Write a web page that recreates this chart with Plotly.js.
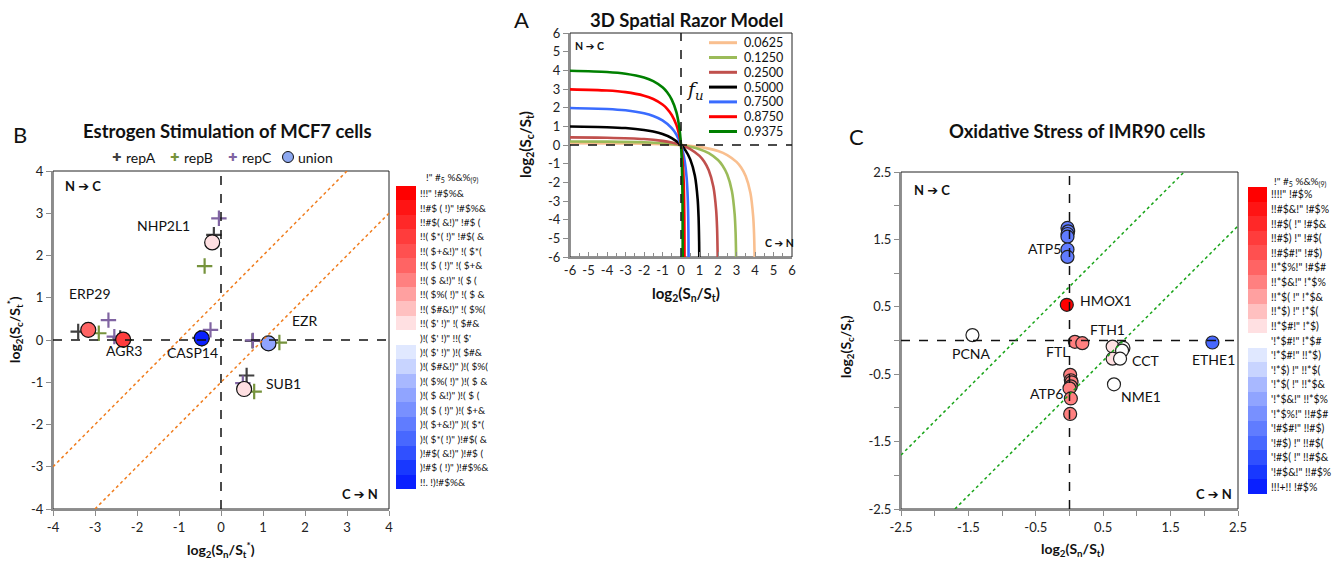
<!DOCTYPE html>
<html><head><meta charset="utf-8">
<script src="https://cdn.plot.ly/plotly-3.0.1.min.js"></script>
<style>html,body{margin:0;padding:0;background:#fff}#chart{width:1338px;height:562px}</style>
</head><body><div id="chart"></div><script>
// ================= DATA =================
// Panel A: 3D Spatial Razor Model curves
const fuLabels = ['0.0625','0.1250','0.2500','0.5000','0.7500','0.8750','0.9375'];
const razorX_0625 = [-6,-4,-2,-1,0,1,2,2.5,3,3.25,3.5,3.75,3.9,3.95,3.979];
const razorY_0625 = [0.092,0.087,0.070,0.047,0,-0.100,-0.322,-0.536,-0.907,-1.209,-1.678,-2.559,-3.806,-4.781,-6];
const razorX_1250 = [-6,-4,-2,-1,0,1,1.5,2,2.25,2.5,2.75,2.9,2.95,2.98];
const razorY_1250 = [0.190,0.181,0.147,0.100,0,-0.222,-0.437,-0.807,-1.109,-1.578,-2.459,-3.706,-4.681,-6];
const razorX_2500 = [-6,-4,-2,-1,-0.5,0,0.5,1,1.25,1.5,1.75,1.9,1.95,1.983];
const razorY_2500 = [0.409,0.392,0.322,0.222,0.134,0,-0.215,-0.585,-0.887,-1.356,-2.237,-3.484,-4.459,-6];
const razorX_5000 = [-6,-4,-3,-2,-1.5,-1,-0.5,0,0.25,0.5,0.75,0.9,0.95,0.98,0.989];
const razorY_5000 = [0.989,0.954,0.907,0.807,0.719,0.585,0.371,0,-0.302,-0.771,-1.652,-2.899,-3.874,-5.182,-6];
const razorX_7500 = [-6,-4,-3,-2,-1.5,-1,-0.5,-0.25,0,0.1,0.2,0.3,0.35,0.39,0.405,0.409];
const razorY_7500 = [1.983,1.931,1.858,1.700,1.556,1.322,0.910,0.563,0,-0.350,-0.852,-1.705,-2.504,-3.863,-5.177,-6];
const razorX_8750 = [-6,-4,-3,-2,-1.5,-1,-0.75,-0.5,-0.25,-0.1,0,0.05,0.1,0.15,0.18,0.187,0.1898];
const razorY_8750 = [2.980,2.919,2.833,2.644,2.466,2.170,1.940,1.609,1.080,0.555,0,-0.409,-1.007,-2.101,-3.848,-5.017,-6];
const razorX_9375 = [-6,-4,-3,-2,-1.5,-1,-0.75,-0.5,-0.25,-0.1,-0.05,0,0.02,0.05,0.08,0.09,0.0917];
const razorY_9375 = [3.979,3.913,3.820,3.615,3.419,3.088,2.824,2.431,1.760,1.003,0.595,0,-0.339,-1.088,-2.79,-4.86,-6];
const aTickVals = [-6,-5,-4,-3,-2,-1,0,1,2,3,4,5,6];
const aTickText = ['-6','-5','-4','-3','-2','-1','0','1','2','3','4','5','6'];

// Panel B: Estrogen stimulation of MCF7 cells
const bGenes   = ['ERP29','AGR3','CASP14','EZR','SUB1','NHP2L1'];
const bUnionX  = [-3.16,-2.33,-0.46,1.13,0.55,-0.21];
const bUnionY  = [0.24,0.01,0.04,-0.08,-1.16,2.31];
const bUnionBin= [5,3,20,14,9,9];
const bRepAX = [-3.40,-2.40,-0.50,0.75,0.61,-0.17];
const bRepAY = [0.20,0.05,0.05,-0.02,-0.84,2.49];
const bRepBX = [-2.91,-2.30,-0.45,1.39,0.79,-0.39];
const bRepBY = [0.16,0.00,0.03,-0.06,-1.22,1.75];
const bRepCX = [-2.68,-2.54,-0.25,0.76,0.52,-0.05];
const bRepCY = [0.47,0.08,0.24,-0.01,-1.02,2.88];
const bDiagOffset = 1;
const bTickVals = [-4,-3,-2,-1,0,1,2,3,4];
const bTickText = ['-4','-3','-2','-1','0','1','2','3','4'];

// Panel C: Oxidative stress of IMR90 cells
const cGene = ['ATP5','ATP5','ATP5','ATP5','ATP5','ATP5','HMOX1','PCNA','FTL','FTH1',
               'CCT','CCT','CCT','CCT','CCT','NME1','ETHE1',
               'ATP6','ATP6','ATP6','ATP6','ATP6','ATP6','ATP6'];
const cX = [-0.03,-0.02,-0.03,-0.03,-0.03,-0.03,-0.04,-1.44,0.08,0.19,
            0.64,0.80,0.78,0.64,0.75,0.66,2.12,
            0.01,0.02,0.03,0.02,0.00,0.02,0.01];
const cY = [1.67,1.62,1.58,1.54,1.35,1.24,0.53,0.08,-0.02,-0.04,
            -0.09,-0.11,-0.15,-0.27,-0.27,-0.65,-0.03,
            -0.51,-0.59,-0.62,-0.68,-0.71,-0.86,-1.09];
const cBin = [16,16,16,16,16,16,0,10,6,6,
              9,10,10,9,10,10,17,
              6,6,6,6,6,6,6];
const cDiagOffset = 0.8;
const cTickVals = [-2.5,-1.5,-0.5,0.5,1.5,2.5];
const cTickText = ['-2.5','-1.5','-0.5','0.5','1.5','2.5'];

// Colour key bands (shared scale, 21 bins)
const bandColors = ['#ff0000','#ff1414','#ff2828','#ff3c3c','#ff5050','#ff6464','#ff8080','#ffa0a0','#ffc0c0','#ffe0e2','#ffffff',
                    '#e0e8ff','#c8d4ff','#a8b8ff','#90a4ff','#7890ff','#607cff','#4868ff','#3050ff','#1838ff','#0a20ff'];
const bandIndex = [0,1,2,3,4,5,6,7,8,9,10,11,12,13,14,15,16,17,18,19,20];
const bKeyTitle = `!" #<sub>5</sub> %&%<sub>(9)</sub>`;
const bKeyLabels = [`!!!" !#$%&`,`!!#$ ( !)" !#$%&`,`!!#$( &!)" !#$ (`,`!!( $*( !)" !#$( &`,`!!( $+&!)" !( $*(`,
  `!!( $ ( !)" !( $+&`,`!!( $ &!)" !( $ (`,`!!( $%( !)" !( $ &`,`!!( $#&!)" !( $%(`,`!!( $' !)" !( $#&`,
  `)!( $' !)" !!( $'`,`)!( $' !)" )!( $#&`,`)!( $#&!)" )!( $%(`,`)!( $%( !)" )!( $ &`,`)!( $ &!)" )!( $ (`,
  `)!( $ ( !)" )!( $+&`,`)!( $+&!)" )!( $*(`,`)!( $*( !)" )!#$( &`,`)!#$( &!)" )!#$ (`,`)!#$ ( !)" )!#$%&`,`!!. !)!#$%&`];
const cKeyTitle = `!" #<sub>5</sub> %&%<sub>(9)</sub>`;
const cKeyLabels = [`!!!!" !#$%`,`!!#$&!" !#$%`,`!!#$( !" !#$&`,`!!#$) !" !#$(`,`!!#$#!" !#$)`,
  `!!*$%!" !#$#`,`!!*$&!" !*$%`,`!!*$( !" !*$&`,`!!*$) !" !*$(`,`!!*$#!" !*$)`,
  `'!*$#!" !*$#`,`'!*$#!" !!*$)`,`'!*$) !" !!*$(`,`'!*$( !" !!*$&`,`'!*$&!" !!*$%`,
  `'!*$%!" !!#$#`,`'!#$#!" !!#$)`,`'!#$) !" !!#$(`,`'!#$( !" !!#$&`,`'!#$&!" !!#$%`,`!!!+!! !#$%`];

// ================= STYLE / LAYOUT =================
const W = 1338, H = 562;
const FONT = 'Lato, "DejaVu Sans", sans-serif';
const px = v => v / W, py = v => 1 - v / H;
const curveColors = ['#f9bf8f','#9bbb59','#c0504d','#000000','#3a6cff','#ff0000','#008000'];
const repColors = {A:'#404040', B:'#76933c', C:'#8064a2'};
const colorscale = bandColors.map((c,i)=>[i/20,c]);

const razorX = [razorX_0625,razorX_1250,razorX_2500,razorX_5000,razorX_7500,razorX_8750,razorX_9375];
const razorY = [razorY_0625,razorY_1250,razorY_2500,razorY_5000,razorY_7500,razorY_8750,razorY_9375];

const traces = [];
fuLabels.forEach((f,i)=>{
  traces.push({x:razorX[i], y:razorY[i], xaxis:'x', yaxis:'y', type:'scatter', mode:'lines',
    name:f, line:{color:curveColors[i], width:2.6, shape:'spline', smoothing:0.8}, hoverinfo:'skip'});
});
[['A',bRepAX,bRepAY],['B',bRepBX,bRepBY],['C',bRepCX,bRepCY]].forEach(([k,xs,ys])=>{
  traces.push({x:xs, y:ys, xaxis:'x2', yaxis:'y2', type:'scatter', mode:'markers', name:'rep'+k,
    marker:{symbol:'cross-thin', size:11, line:{width:2.2, color:repColors[k]}}});
});
traces.push({x:bUnionX, y:bUnionY, text:bGenes, xaxis:'x2', yaxis:'y2', type:'scatter', mode:'markers', name:'union',
  marker:{size:15, color:bUnionBin, colorscale:colorscale, cmin:0, cmax:20, line:{width:1.2, color:'#111'}}});
traces.push({x:cX, y:cY, text:cGene, xaxis:'x3', yaxis:'y3', type:'scatter', mode:'markers',
  marker:{size:13, color:cBin, colorscale:colorscale, cmin:0, cmax:20, line:{width:1.2, color:'#222'}}});
traces.push({type:'heatmap', xaxis:'x4', yaxis:'y4', x:[0], y:bandIndex, z:bandIndex.map(v=>[v]),
  colorscale:colorscale, zmin:0, zmax:20, showscale:false, hoverinfo:'skip'});
traces.push({type:'heatmap', xaxis:'x5', yaxis:'y5', x:[0], y:bandIndex, z:bandIndex.map(v=>[v]),
  colorscale:colorscale, zmin:0, zmax:20, showscale:false, hoverinfo:'skip'});

const GREY = '#8c8c8c';
function ax(o){ return Object.assign({showgrid:false, zeroline:false, showline:true, linecolor:GREY, linewidth:2,
  ticks:'outside', ticklen:5, tickwidth:1, tickcolor:GREY, fixedrange:true, tickmode:'array',
  tickfont:{family:FONT, size:13, color:'#222'}}, o); }
const hidden = o => Object.assign({visible:false, fixedrange:true}, o);

const layout = {
  width:W, height:H, margin:{l:0,r:0,t:0,b:0}, showlegend:false,
  paper_bgcolor:'#fff', plot_bgcolor:'rgba(0,0,0,0)', font:{family:FONT, color:'#111'},
  xaxis: ax({domain:[px(570),px(792)], range:[-6,6], tickvals:aTickVals, ticktext:aTickText, ticks:'inside', ticklen:5,
    minor:{tickmode:'linear', tick0:-6, dtick:0.5, ticks:'inside', ticklen:4, tickcolor:GREY}, anchor:'y'}),
  yaxis: ax({domain:[py(257),py(33)], range:[-6,6], tickvals:aTickVals, ticktext:aTickText, anchor:'x'}),
  xaxis2: ax({domain:[px(53),px(389)], range:[-4,4], tickvals:bTickVals, ticktext:bTickText, anchor:'y2'}),
  yaxis2: ax({domain:[py(509),py(171)], range:[-4,4], tickvals:bTickVals, ticktext:bTickText, anchor:'x2'}),
  xaxis3: ax({domain:[px(901),px(1238)], range:[-2.5,2.5], tickvals:cTickVals, ticktext:cTickText, anchor:'y3',
    minor:{tickmode:'linear', tick0:-2.5, dtick:0.5, ticks:'outside', ticklen:5, tickcolor:GREY}}),
  yaxis3: ax({domain:[py(509),py(172)], range:[-2.5,2.5], tickvals:cTickVals, ticktext:cTickText, anchor:'x3',
    minor:{tickmode:'linear', tick0:-2.5, dtick:0.5, ticks:'outside', ticklen:5, tickcolor:GREY}}),
  xaxis4: hidden({domain:[px(396),px(416)], range:[-0.5,0.5], anchor:'y4'}),
  yaxis4: hidden({domain:[py(489),py(186)], range:[20.5,-0.5], anchor:'x4'}),
  xaxis5: hidden({domain:[px(1248),px(1267)], range:[-0.5,0.5], anchor:'y5'}),
  yaxis5: hidden({domain:[py(494),py(187)], range:[20.5,-0.5], anchor:'x5'}),
  shapes:[], annotations:[]
};

const S = layout.shapes, A = layout.annotations;
// frames (top/right dark) & dashed reference lines
[['x','y'],['x2','y2'],['x3','y3']].forEach(([xa,ya])=>{
  S.push({type:'rect', xref:xa+' domain', yref:ya+' domain', x0:0,x1:1,y0:0,y1:1, line:{color:'#222',width:1}, layer:'below'});
  S.push({type:'line', xref:xa, yref:ya+' domain', x0:0,x1:0,y0:0,y1:1, line:{color:'#111',width:1.5,dash:'dash'}});
  S.push({type:'line', xref:xa+' domain', yref:ya, x0:0,x1:1,y0:0,y1:0, line:{color:'#111',width:1.5,dash:'dash'}});
});
// diagonal guide lines
S.push({type:'line', xref:'x2', yref:'y2', x0:-4, y0:-4+bDiagOffset, x1:4-bDiagOffset, y1:4, line:{color:'#f07d1e',width:1.5,dash:'dot'}});
S.push({type:'line', xref:'x2', yref:'y2', x0:-4+bDiagOffset, y0:-4, x1:4, y1:4-bDiagOffset, line:{color:'#f07d1e',width:1.5,dash:'dot'}});
S.push({type:'line', xref:'x3', yref:'y3', x0:-2.5, y0:-2.5+cDiagOffset, x1:2.5-cDiagOffset, y1:2.5, line:{color:'#16a316',width:1.5,dash:'dot'}});
S.push({type:'line', xref:'x3', yref:'y3', x0:-2.5+cDiagOffset, y0:-2.5, x1:2.5, y1:2.5-cDiagOffset, line:{color:'#16a316',width:1.5,dash:'dot'}});

function P(x,y,text,o={}){
  const f = Object.assign({family:FONT, size:12, color:'#111'}, o.font||{});
  return Object.assign({xref:'paper', yref:'paper', x:px(x), y:py(y), text, showarrow:false,
    xanchor:'center', yanchor:'middle', xshift:0.01}, o, {font:f});
}
const ARROW = '<span style="font-family:DejaVu Sans">➔</span>';
// Panel letters and titles
A.push(P(521,20,'A',{font:{size:22}}));
A.push(P(20,134,'B',{font:{size:22}}));
A.push(P(856,136,'C',{font:{size:22}}));
A.push(P(686,20,'<b>3D Spatial Razor Model</b>',{font:{size:18.5}}));
A.push(P(227,131,'<b>Estrogen Stimulation of MCF7 cells</b>',{font:{size:18.5}}));
A.push(P(1077,131,'<b>Oxidative Stress of IMR90 cells</b>',{font:{size:18.5}}));
// Axis titles
A.push(P(686,294,'<b>log<sub>2</sub>(S<sub>n</sub>/S<sub>t</sub>)</b>',{font:{size:15}}));
A.push(P(526,145,'<b>log<sub>2</sub>(S<sub>c</sub>/S<sub>t</sub>)</b>',{font:{size:15}, textangle:-90}));
A.push(P(221,549,'<b>log<sub>2</sub>(S<sub>n</sub>/S<sub>t</sub><sup>*</sup>)</b>',{font:{size:14}}));
A.push(P(14,330,'<b>log<sub>2</sub>(S<sub>c</sub>/S<sub>t</sub><sup>*</sup>)</b>',{font:{size:14}, textangle:-90}));
A.push(P(1072,549,'<b>log<sub>2</sub>(S<sub>n</sub>/S<sub>t</sub>)</b>',{font:{size:14}}));
A.push(P(846,347,'<b>log<sub>2</sub>(S<sub>c</sub>/S<sub>t</sub>)</b>',{font:{size:14}, textangle:-90}));
// Direction labels
A.push(P(573,46,'<b>N '+ARROW+' C</b>',{font:{size:10.5}, xanchor:'left'}));
A.push(P(796,243,'<b>C '+ARROW+' N</b>',{font:{size:10.5}, xanchor:'right'}));
A.push(P(63,186,'<b>N '+ARROW+' C</b>',{font:{size:13}, xanchor:'left'}));
A.push(P(380,494,'<b>C '+ARROW+' N</b>',{font:{size:13}, xanchor:'right'}));
A.push(P(912,190,'<b>N '+ARROW+' C</b>',{font:{size:13}, xanchor:'left'}));
A.push(P(1234,494,'<b>C '+ARROW+' N</b>',{font:{size:13}, xanchor:'right'}));
A.push(P(695,90,'<i>f<sub>u</sub></i>',{font:{size:19, family:'"DejaVu Serif", "Liberation Serif", serif'}}));

// Panel A legend (inside top-right)
fuLabels.forEach((f,i)=>{
  const yy = 42.7 + 14.8*i;
  S.push({type:'line', xref:'paper', yref:'paper', x0:px(709), x1:px(737), y0:py(yy), y1:py(yy), line:{color:curveColors[i], width:3}});
  A.push(P(742,yy,f,{xanchor:'left', font:{size:12.5}}));
});
// Panel B legend
[['A',116],['B',174],['C',232]].forEach(([k,x])=>{
  A.push(P(x,157,'✚',{font:{size:11, color:repColors[k], family:'"DejaVu Sans", sans-serif'}}));
  A.push(P(x+8,157,'rep'+k,{xanchor:'left', font:{size:14}}));
});
S.push({type:'circle', xref:'paper', yref:'paper', x0:px(282.5), x1:px(293.5), y0:py(162.5), y1:py(151.5),
  fillcolor:'#8da8f0', line:{color:'#111', width:1}});
A.push(P(296,157,'union',{xanchor:'left', font:{size:14}}));

// Gene labels, Panel B
const GL = (xr,yr,x,y,t,anchor)=>({xref:xr, yref:yr, x, y, text:t, showarrow:false, xanchor:anchor, yanchor:'middle', xshift:0.01, font:{family:FONT,size:14,color:'#111'}});
A.push(GL('x2','y2',-0.70,2.70,bGenes[5],'right'));
A.push(GL('x2','y2',-3.67,1.10,bGenes[0],'left'));
A.push(GL('x2','y2',-2.79,-0.24,bGenes[1],'left'));
A.push(GL('x2','y2',-0.02,-0.29,bGenes[2],'right'));
A.push(GL('x2','y2',1.64,0.46,bGenes[3],'left'));
A.push(GL('x2','y2',1.03,-1.04,bGenes[4],'left'));
// Gene labels, Panel C
A.push(GL('x3','y3',-0.09,1.37,'ATP5','right'));
A.push(GL('x3','y3',0.12,0.59,'HMOX1','left'));
A.push(GL('x3','y3',0.27,0.17,'FTH1','left'));
A.push(GL('x3','y3',-1.46,-0.19,'PCNA','center'));
A.push(GL('x3','y3',0.02,-0.17,'FTL','right'));
A.push(GL('x3','y3',0.90,-0.30,'CCT','left'));
A.push(GL('x3','y3',2.14,-0.28,'ETHE1','center'));
A.push(GL('x3','y3',-0.07,-0.78,'ATP6','right'));
A.push(GL('x3','y3',0.74,-0.83,'NME1','left'));

// Colour key labels
A.push(P(452,178,bKeyTitle,{font:{size:10}}));
bKeyLabels.forEach((t,i)=>A.push({xref:'x4 domain', yref:'y4', x:1, y:i, xshift:2, text:t, showarrow:false,
  xanchor:'left', yanchor:'middle', font:{family:FONT,size:10,color:'#111'}}));
A.push(P(1300,182,cKeyTitle,{font:{size:10}}));
cKeyLabels.forEach((t,i)=>A.push({xref:'x5 domain', yref:'y5', x:1, y:i, xshift:2, text:t, showarrow:false,
  xanchor:'left', yanchor:'middle', font:{family:FONT,size:10.5,color:'#111'}}));

Plotly.newPlot('chart', traces, layout, {staticPlot:true, displayModeBar:false});
</script></body></html>
